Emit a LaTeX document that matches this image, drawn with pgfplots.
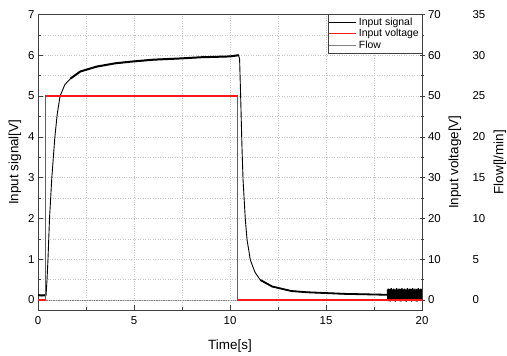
\documentclass[border=0pt]{standalone}
\usepackage{fontspec}
\setmainfont{Liberation Sans}
\usepackage{pgfplots}
\pgfplotsset{compat=1.18}
\begin{document}
\begin{tikzpicture}
\useasboundingbox (-38bp,-46bp) rectangle (469bp,310bp);
\pgfplotsset{
  base/.style={scale only axis, width=384bp, height=295.6bp, at={(0,0)}, anchor=south west,
    xmin=0, xmax=20, /pgf/number format/assume math mode=true,
    tick label style={font=\fontsize{11.5}{12}\selectfont},
    label style={font=\fontsize{13.5}{15}\selectfont}},
}
% Flow axis (third y axis)
\begin{axis}[base, hide x axis, axis y line*=right, axis line style={draw=none},
  ymin=-1.225, ymax=35, ytick={0,5,...,35}, major tick length=0pt,
  yticklabel style={anchor=west, xshift=47bp},
  ylabel={Flow[l/min]},
  ylabel style={at={(axis description cs:1,0.5)}, anchor=center, yshift=-78bp}]
\addplot[gray, line width=0.8pt] coordinates {(0,0) (20,0)};
\end{axis}
% Main axis: Input signal
\begin{axis}[base, ymin=-0.245, ymax=7, ytick={0,1,...,7}, xtick={0,5,...,20},
  minor x tick num=1, minor y tick num=1,
  grid=both, grid style={dotted, gray!45, line width=0.5pt},
  minor grid style={dotted, gray!45, line width=0.5pt},
  xtick pos=bottom, ytick pos=left, tick align=inside,
  major tick length=5bp, minor tick length=3bp,
  axis line style={black!75, line width=0.8pt},
  tick style={black!75, line width=0.6pt},
  xlabel={Time[s]}, ylabel={Input signal[V]},
  xticklabel style={yshift=-3bp},
  xlabel style={at={(axis description cs:0.5,0)}, anchor=center, yshift=-36bp},
  ylabel style={at={(axis description cs:0,0.5)}, anchor=center, yshift=23bp}]
\addplot[black, line width=0.9pt] coordinates {
(0,0.12) (0.2,0.11) (0.42,0.12) (0.47,0.5) (0.52,1.0) (0.6,2.0) (0.72,3.0) (0.88,4.0)
(1.0,4.55) (1.15,5.0) (1.4,5.28) (1.7,5.43) (2.2,5.6) (3.05,5.72) (4.0,5.8) (4.8,5.84)
(6.0,5.89) (7.4,5.92) (8.5,5.95) (10.0,5.97) (10.45,6.0) (10.5,5.9) (10.56,4.9)
(10.62,3.8) (10.68,2.94) (10.8,1.96) (10.89,1.47) (11.06,0.98) (11.3,0.68) (11.58,0.49)
(12.2,0.33) (13.2,0.22) (14,0.19) (15,0.17) (16,0.15) (17,0.14) (18,0.13) (18.2,0.13)
};
% noisy (thicker) stretches of the same signal
\addplot[black, line width=2pt] coordinates {(0,0.12) (0.2,0.11) (0.42,0.12)};
\addplot[black, line width=2pt] coordinates {
(1.7,5.43) (2.2,5.6) (3.05,5.72) (4.0,5.8) (4.8,5.84)
(6.0,5.89) (7.4,5.92) (8.5,5.95) (10.0,5.97) (10.45,6.0)};
\addplot[black, line width=1.8pt] coordinates {
(11.58,0.49) (12.2,0.33) (13.2,0.22) (14,0.19) (15,0.17) (16,0.15) (17,0.14) (18,0.13) (18.2,0.13)};
\addplot[black, line width=1.2pt] coordinates {
(18.20,0.26) (18.22,0.00) (18.24,0.28) (18.26,-0.03) (18.28,0.24) (18.30,0.02) (18.32,0.27)
(18.34,-0.04) (18.36,0.25) (18.38,0.01) (18.40,0.29) (18.42,-0.02) (18.44,0.23) (18.46,0.03)
(18.48,0.26) (18.50,0.00) (18.52,0.28) (18.54,-0.03) (18.56,0.24) (18.58,0.02) (18.60,0.27)
(18.62,-0.04) (18.64,0.25) (18.66,0.01) (18.68,0.29) (18.70,-0.02) (18.72,0.23) (18.74,0.03)
(18.76,0.26) (18.78,0.00) (18.80,0.28) (18.82,-0.03) (18.84,0.24) (18.86,0.02) (18.88,0.27)
(18.90,-0.04) (18.92,0.25) (18.94,0.01) (18.96,0.29) (18.98,-0.02) (19.00,0.23) (19.02,0.03)
(19.04,0.26) (19.06,0.00) (19.08,0.28) (19.10,-0.03) (19.12,0.24) (19.14,0.02) (19.16,0.27)
(19.18,-0.04) (19.20,0.25) (19.22,0.01) (19.24,0.29) (19.26,-0.02) (19.28,0.23) (19.30,0.03)
(19.32,0.26) (19.34,0.00) (19.36,0.28) (19.38,-0.03) (19.40,0.24) (19.42,0.02) (19.44,0.27)
(19.46,-0.04) (19.48,0.25) (19.50,0.01) (19.52,0.29) (19.54,-0.02) (19.56,0.23) (19.58,0.03)
(19.60,0.26) (19.62,0.00) (19.64,0.28) (19.66,-0.03) (19.68,0.24) (19.70,0.02) (19.72,0.27)
(19.74,-0.04) (19.76,0.25) (19.78,0.01) (19.80,0.29) (19.82,-0.02) (19.84,0.23) (19.86,0.03)
(19.88,0.26) (19.90,0.00) (19.92,0.28) (19.94,-0.03) (19.96,0.24) (19.98,0.02) (20.00,0.27)
};
\end{axis}
% Input voltage axis (second y axis)
\begin{axis}[base, hide x axis, axis y line*=right,
  axis line style={black!75, line width=0.8pt},
  ymin=-2.45, ymax=70, ytick={0,10,...,70}, minor y tick num=1,
  tick align=center, major tick length=5bp, minor tick length=3bp,
  tick style={black!75, line width=0.6pt},
  ylabel={Input voltage[V]},
  ylabel style={at={(axis description cs:1,0.5)}, anchor=center, yshift=-33bp},
  legend image code/.code={\draw[#1] (0cm,0cm) -- (0.95cm,0cm);},
  legend cell align=left,
  legend style={at={(1,1)}, anchor=north east, draw=black!75, line width=0.5pt,
    font=\fontsize{10.5}{10.5}\selectfont, inner sep=1pt, row sep=-1.5pt,
    /tikz/every even column/.append style={column sep=1pt}}]
\addlegendimage{black, line width=0.8pt}
\addlegendentry{Input signal}
\addplot[red!90!white, line width=1.1pt] coordinates {
(0,0) (0.38,0) (0.38,50) (10.38,50) (10.38,0) (20,0)
};
\addlegendentry{Input voltage}
\addlegendimage{gray, line width=0.8pt}
\addlegendentry{Flow}
\end{axis}
\end{tikzpicture}
\end{document}
